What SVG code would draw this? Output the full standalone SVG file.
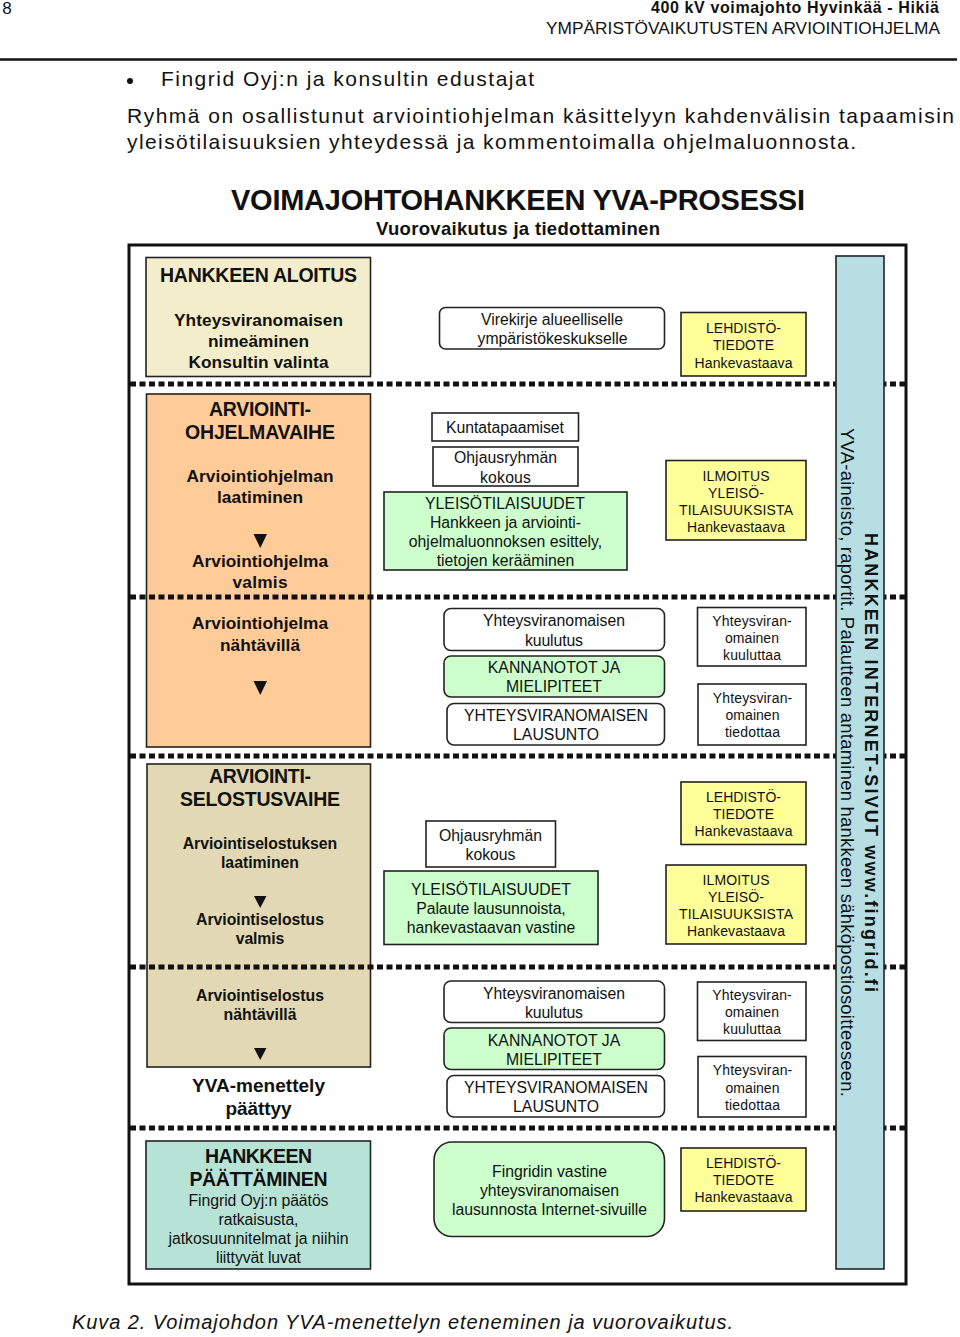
<svg xmlns="http://www.w3.org/2000/svg" width="960" height="1337" viewBox="0 0 960 1337">
<style>
text{font-family:"Liberation Sans",Arial,sans-serif;fill:#111;text-anchor:middle}
.b{font-weight:bold}
.h{font-size:19.5px;font-weight:bold}
.s{font-size:17.3px;font-weight:bold}
.t{font-size:15.8px;font-weight:bold}
.m{font-size:15.8px}
.r{font-size:14px}
.body{font-size:21px;text-anchor:start}
.box{stroke:#222;stroke-width:1.6}
.w{fill:#fff}.g{fill:#ccffcc}.y{fill:#ffff99}
.sep{stroke:#111;stroke-width:5;stroke-dasharray:6 3.5;fill:none}
.arr{fill:#111}
</style>
<rect width="960" height="1337" fill="#fff"/>
<g id="page-text">
<text x="7" y="14" font-size="17">8</text>
<text x="795" y="13" class="b" font-size="16" textLength="288">400 kV voimajohto Hyvinkää - Hikiä</text>
<text x="743" y="34" font-size="17.3" textLength="394">YMPÄRISTÖVAIKUTUSTEN ARVIOINTIOHJELMA</text>
<line x1="0" y1="59.5" x2="957" y2="59.5" stroke="#111" stroke-width="2.5"/>
<circle cx="130" cy="81" r="3" fill="#111"/>
<text x="161" y="86" class="body" textLength="373">Fingrid Oyj:n ja konsultin edustajat</text>
<text x="127" y="123" class="body" textLength="827">Ryhmä on osallistunut arviointiohjelman käsittelyyn kahdenvälisin tapaamisin</text>
<text x="127" y="149" class="body" textLength="729">yleisötilaisuuksien yhteydessä ja kommentoimalla ohjelmaluonnosta.</text>
<text x="518" y="210" class="b" font-size="29" textLength="574">VOIMAJOHTOHANKKEEN YVA-PROSESSI</text>
<text x="518" y="235" class="b" font-size="18.500" textLength="284">Vuorovaikutus ja tiedottaminen</text>
<text x="402.500" y="1329" font-size="20" font-style="italic" textLength="661">Kuva 2. Voimajohdon YVA-menettelyn eteneminen ja vuorovaikutus.</text>
</g>
<rect id="frame" x="129" y="245" width="777" height="1039" fill="none" stroke="#111" stroke-width="3"/>
<g id="n-aloitus">
<rect class="box" x="146" y="257.500" width="224.500" height="119" fill="#f3edcb"/>
<text x="258.500" y="282" class="h" textLength="197">HANKKEEN ALOITUS</text>
<text x="258.500" y="326" class="s" textLength="169">Yhteysviranomaisen</text>
<text x="258.500" y="347" class="s" textLength="101">nimeäminen</text>
<text x="258.500" y="368" class="s" textLength="140">Konsultin valinta</text>
</g>
<g id="n-ohjelma">
<rect class="box" x="146.500" y="394" width="224" height="353" fill="#ffcc99"/>
<text x="260" y="416" class="h" textLength="102">ARVIOINTI-</text>
<text x="260" y="439" class="h" textLength="150">OHJELMAVAIHE</text>
<text x="260" y="482" class="s" textLength="147">Arviointiohjelman</text>
<text x="260" y="503" class="s" textLength="86">laatiminen</text>
<polygon class="arr" points="253.500,534 267,534 260.300,548"/>
<text x="260" y="567" class="s" textLength="136">Arviointiohjelma</text>
<text x="260" y="588" class="s" textLength="55">valmis</text>
<text x="260" y="629" class="s" textLength="136">Arviointiohjelma</text>
<text x="260" y="651" class="s" textLength="80">nähtävillä</text>
<polygon class="arr" points="253.500,681 267,681 260.300,695"/>
</g>
<g id="n-selostus">
<rect class="box" x="147" y="764" width="223.500" height="303" fill="#e2d9b4"/>
<text x="260" y="783" class="h" textLength="102">ARVIOINTI-</text>
<text x="260" y="806" class="h" textLength="160">SELOSTUSVAIHE</text>
<text x="260" y="849" class="t" textLength="154.500">Arviointiselostuksen</text>
<text x="260" y="868" class="t" textLength="78">laatiminen</text>
<polygon class="arr" points="254,896 266.500,896 260.200,908"/>
<text x="260" y="925" class="t" textLength="128">Arviointiselostus</text>
<text x="260" y="944" class="t" textLength="48.500">valmis</text>
<text x="260" y="1001" class="t" textLength="128">Arviointiselostus</text>
<text x="260" y="1020" class="t" textLength="73">nähtävillä</text>
<polygon class="arr" points="254,1048 266.500,1048 260.200,1060"/>
</g>
<g id="n-paattyy">
<text x="258.500" y="1092" font-size="19" class="b" textLength="133">YVA-menettely</text>
<text x="258.500" y="1115" font-size="19" class="b" textLength="66">päättyy</text>
</g>
<g id="connectors">
<line class="sep" x1="130" y1="384" x2="905" y2="384"/>
<line class="sep" x1="130" y1="597" x2="905" y2="597"/>
<line class="sep" x1="130" y1="756" x2="905" y2="756"/>
<line class="sep" x1="130" y1="967" x2="905" y2="967"/>
<line class="sep" x1="130" y1="1128" x2="905" y2="1128"/>
</g>
<g id="n-paattaminen">
<rect class="box" x="146" y="1141" width="224.500" height="128" fill="#b7e3d7"/>
<text x="258.500" y="1163" class="h" textLength="107">HANKKEEN</text>
<text x="258.500" y="1186" class="h" textLength="138">PÄÄTTÄMINEN</text>
<text x="258.500" y="1206" class="m" textLength="140">Fingrid Oyj:n päätös</text>
<text x="258.500" y="1225" class="m" textLength="80">ratkaisusta,</text>
<text x="258.500" y="1244" class="m" textLength="180">jatkosuunnitelmat ja niihin</text>
<text x="258.500" y="1263" class="m" textLength="85">liittyvät luvat</text>
</g>
<g id="n-virekirje">
<rect class="box w" x="439.500" y="307.500" width="225" height="41.500" rx="6"/>
<text x="552" y="325" class="m" textLength="142">Virekirje alueelliselle</text>
<text x="552.500" y="344" class="m" textLength="150">ympäristökeskukselle</text>
</g>
<g id="n-tiedote1">
<rect class="box y" x="681" y="312.500" width="125" height="63.500"/>
<text x="743.500" y="333" class="r" textLength="75">LEHDISTÖ-</text>
<text x="743.500" y="350" class="r" textLength="61">TIEDOTE</text>
<text x="743.500" y="367.500" class="r" textLength="98">Hankevastaava</text>
</g>
<g id="n-kunta">
<rect class="box w" x="432" y="413" width="146.500" height="28"/>
<text x="505" y="433" class="m" textLength="118">Kuntatapaamiset</text>
</g>
<g id="n-ohjaus1">
<rect class="box w" x="433" y="447" width="145" height="39"/>
<text x="505.500" y="463" class="m" textLength="103">Ohjausryhmän</text>
<text x="505.500" y="483" class="m" textLength="51">kokous</text>
</g>
<g id="n-yleiso1">
<rect class="box g" x="384" y="492" width="243" height="78"/>
<text x="505" y="509" class="m" textLength="160">YLEISÖTILAISUUDET</text>
<text x="505.500" y="528" class="m" textLength="151">Hankkeen ja arviointi-</text>
<text x="505.500" y="547" class="m" textLength="193.500">ohjelmaluonnoksen esittely,</text>
<text x="505.500" y="566" class="m" textLength="137.500">tietojen kerääminen</text>
</g>
<g id="n-ilmoitus1">
<rect class="box y" x="666" y="460.500" width="140" height="79.500"/>
<text x="736" y="481" class="r" textLength="67">ILMOITUS</text>
<text x="736" y="498" class="r" textLength="56">YLEISÖ-</text>
<text x="736" y="514.500" class="r" textLength="114">TILAISUUKSISTA</text>
<text x="736" y="532" class="r" textLength="98">Hankevastaava</text>
</g>
<g id="n-kuulutus1">
<rect class="box w" x="444" y="608.500" width="220.500" height="42" rx="7"/>
<text x="554" y="626" class="m" textLength="142">Yhteysviranomaisen</text>
<text x="554" y="645.500" class="m" textLength="58">kuulutus</text>
</g>
<g id="n-kannanotot1">
<rect class="box g" x="444" y="656" width="220.500" height="41" rx="7"/>
<text x="554" y="673" class="m" textLength="132.500">KANNANOTOT JA</text>
<text x="554" y="692" class="m" textLength="96">MIELIPITEET</text>
</g>
<g id="n-lausunto1">
<rect class="box w" x="447" y="703.500" width="217.500" height="41.500" rx="7"/>
<text x="556" y="721" class="m" textLength="184">YHTEYSVIRANOMAISEN</text>
<text x="556" y="740" class="m" textLength="86">LAUSUNTO</text>
</g>
<g id="n-kuuluttaa1">
<rect class="box w" x="697.500" y="607.500" width="108.500" height="58.500"/>
<text x="752" y="626" class="r" textLength="79.500">Yhteysviran-</text>
<text x="752" y="643" class="r" textLength="54">omainen</text>
<text x="752" y="660" class="r" textLength="58">kuuluttaa</text>
</g>
<g id="n-tiedottaa1">
<rect class="box w" x="698" y="684" width="108" height="61"/>
<text x="752.500" y="703" class="r" textLength="79.500">Yhteysviran-</text>
<text x="752.500" y="720" class="r" textLength="54">omainen</text>
<text x="752.500" y="737" class="r" textLength="55">tiedottaa</text>
</g>
<g id="n-tiedote2">
<rect class="box y" x="681" y="782" width="125" height="62.500"/>
<text x="743.500" y="802" class="r" textLength="75">LEHDISTÖ-</text>
<text x="743.500" y="819" class="r" textLength="61">TIEDOTE</text>
<text x="743.500" y="835.500" class="r" textLength="98">Hankevastaava</text>
</g>
<g id="n-ilmoitus2">
<rect class="box y" x="666" y="865" width="140" height="79"/>
<text x="736" y="885" class="r" textLength="67">ILMOITUS</text>
<text x="736" y="902" class="r" textLength="56">YLEISÖ-</text>
<text x="736" y="918.500" class="r" textLength="114">TILAISUUKSISTA</text>
<text x="736" y="936" class="r" textLength="98">Hankevastaava</text>
</g>
<g id="n-ohjaus2">
<rect class="box w" x="426" y="821" width="129.500" height="46"/>
<text x="490.500" y="841" class="m" textLength="103">Ohjausryhmän</text>
<text x="490.500" y="860" class="m" textLength="50">kokous</text>
</g>
<g id="n-yleiso2">
<rect class="box g" x="384" y="871" width="214" height="73.500"/>
<text x="491" y="895" class="m" textLength="160">YLEISÖTILAISUUDET</text>
<text x="491" y="914" class="m" textLength="149.500">Palaute lausunnoista,</text>
<text x="491" y="933" class="m" textLength="168.500">hankevastaavan vastine</text>
</g>
<g id="n-kuulutus2">
<rect class="box w" x="444" y="981" width="220.500" height="41.500" rx="7"/>
<text x="554" y="999" class="m" textLength="142">Yhteysviranomaisen</text>
<text x="554" y="1018" class="m" textLength="58">kuulutus</text>
</g>
<g id="n-kannanotot2">
<rect class="box g" x="444" y="1028" width="220.500" height="41.500" rx="7"/>
<text x="554" y="1046" class="m" textLength="132.500">KANNANOTOT JA</text>
<text x="554" y="1065" class="m" textLength="96">MIELIPITEET</text>
</g>
<g id="n-lausunto2">
<rect class="box w" x="447" y="1075.500" width="217.500" height="41.500" rx="7"/>
<text x="556" y="1093" class="m" textLength="184">YHTEYSVIRANOMAISEN</text>
<text x="556" y="1112" class="m" textLength="86">LAUSUNTO</text>
</g>
<g id="n-kuuluttaa2">
<rect class="box w" x="697.500" y="982" width="108.500" height="58.500"/>
<text x="752" y="1000" class="r" textLength="79.500">Yhteysviran-</text>
<text x="752" y="1017" class="r" textLength="54">omainen</text>
<text x="752" y="1034" class="r" textLength="58">kuuluttaa</text>
</g>
<g id="n-tiedottaa2">
<rect class="box w" x="698" y="1056.500" width="108" height="60.500"/>
<text x="752.500" y="1075" class="r" textLength="79.500">Yhteysviran-</text>
<text x="752.500" y="1092.500" class="r" textLength="54">omainen</text>
<text x="752.500" y="1110" class="r" textLength="55">tiedottaa</text>
</g>
<g id="n-vastine">
<rect class="box g" x="434" y="1142" width="230.500" height="94.500" rx="18"/>
<text x="549.500" y="1177" class="m" textLength="115">Fingridin vastine</text>
<text x="549.500" y="1196" class="m" textLength="139">yhteysviranomaisen</text>
<text x="549.500" y="1215" class="m" textLength="195">lausunnosta Internet-sivuille</text>
</g>
<g id="n-tiedote3">
<rect class="box y" x="681" y="1148" width="125" height="63"/>
<text x="743.500" y="1167.500" class="r" textLength="75">LEHDISTÖ-</text>
<text x="743.500" y="1185" class="r" textLength="61">TIEDOTE</text>
<text x="743.500" y="1202" class="r" textLength="98">Hankevastaava</text>
</g>
<g id="n-internet">
<rect class="box" x="836" y="256" width="48" height="1013" fill="#b7dee3"/>
<text transform="translate(865 762.500) rotate(90)" class="b" font-size="18" textLength="459">HANKKEEN INTERNET-SIVUT www.fingrid.fi</text>
<text transform="translate(841 762.500) rotate(90)" font-size="18.500" textLength="669">YVA-aineisto, raportit. Palautteen antaminen hankkeen sähköpostiosoitteeseen.</text>
</g>
</svg>
